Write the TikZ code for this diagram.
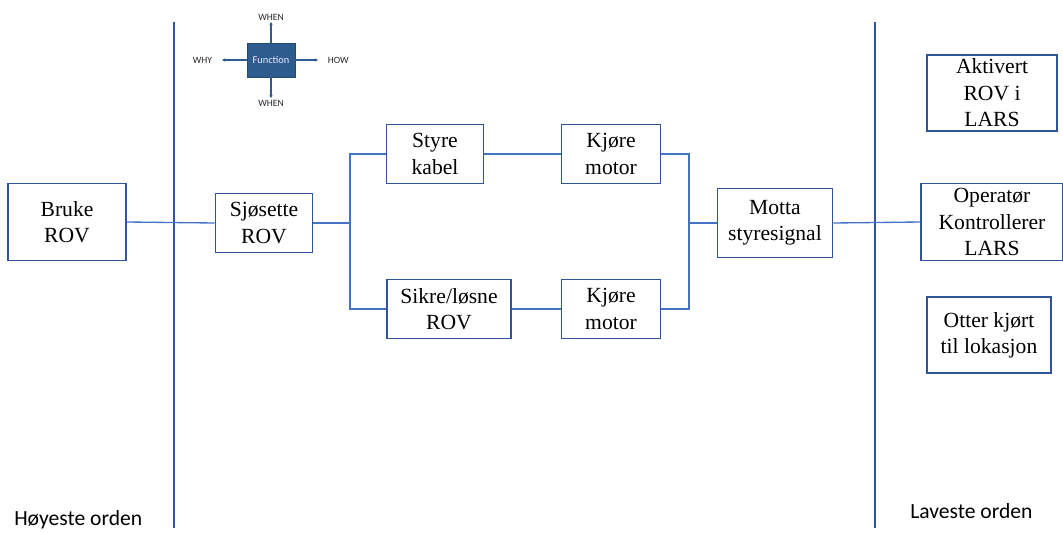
\documentclass[tikz,border=0pt]{standalone}
\usepackage{fontspec}
\setmainfont{Liberation Serif}
\newfontfamily\calibri{Carlito}
\usepackage{tikz}
\usetikzlibrary{arrows.meta}
\definecolor{boxblue}{HTML}{2F5597}
\definecolor{linkblue}{HTML}{4472C4}
\definecolor{fnblue}{HTML}{2E5C8E}
\tikzset{
  funcbox/.style={draw=boxblue,line width=1.3pt,fill=white,inner sep=0pt,align=center,
    font=\fontsize{16.2}{19.8}\selectfont},
  link/.style={draw=linkblue,line width=1pt},
  border/.style={draw=boxblue,line width=1.1pt},
  hint/.style={draw=fnblue,line width=0.8pt,-{Stealth[length=2.5pt,width=2.5pt]}},
  hintlabel/.style={font=\calibri\fontsize{7.2}{8}\selectfont,text=black!85,inner sep=1pt},
  orden/.style={anchor=west,font=\calibri\fontsize{16.2}{18}\selectfont,inner sep=0pt}
}
\begin{document}
\begin{tikzpicture}[x=0.75pt,y=-0.75pt]
\useasboundingbox (0,0) rectangle (1063,532);

%orden
\draw[border] (174,22) -- (174,528);
\draw[border] (875,22) -- (875,528);
\node[orden] (hoy) at (14,520) {Høyeste orden};
\node[orden] (lav) at (910,511) {Laveste orden};

%function
\node[fill=fnblue,draw=fnblue!80!black,minimum width={48*0.75pt},minimum height={34*0.75pt},inner sep=0pt,
  text=blue!8,font=\calibri\fontsize{7.8}{9}\selectfont] (fn) at (271,60) {Function};
\draw[hint] (fn.north) -- (271,22) node[hintlabel,above] (when1) {WHEN};
\draw[hint] (fn.south) -- (271,98) node[hintlabel,below] (when2) {WHEN};
\draw[hint] (fn.west) -- (222,60) node[hintlabel,left,xshift=-6pt] (why) {WHY};
\draw[hint] (fn.east) -- (318,60) node[hintlabel,right,xshift=6pt] (how) {HOW};

%boxes
\node[funcbox,minimum width={118*0.75pt},minimum height={77*0.75pt}] (bruke) at (67,222) {Bruke\\ROV};
\node[funcbox,minimum width={97*0.75pt},minimum height={59*0.75pt}] (sjo) at (264,223) {Sjøsette\\ROV};
\node[funcbox,minimum width={97*0.75pt},minimum height={59*0.75pt}] (styre) at (435,154) {Styre\\kabel};
\node[funcbox,minimum width={124*0.75pt},minimum height={59*0.75pt}] (sikre) at (449,309) {Sikre/løsne\\ROV};
\node[funcbox,minimum width={99*0.75pt},minimum height={59*0.75pt}] (kjore1) at (611,154) {Kjøre\\motor};
\node[funcbox,minimum width={99*0.75pt},minimum height={59*0.75pt}] (kjore2) at (611,309) {Kjøre\\motor};
\node[funcbox,minimum width={115*0.75pt},minimum height={69*0.75pt}] (motta) at (775,223) {Motta\\styresignal};
\node[funcbox,minimum width={130*0.75pt},minimum height={76*0.75pt}] (aktiv) at (992,93) {Aktivert\\ROV i\\LARS};
\node[funcbox,minimum width={142*0.75pt},minimum height={77*0.75pt}] (oper) at (992,222) {Operatør\\Kontrollerer\\LARS};
\node[funcbox,minimum width={124*0.75pt},minimum height={76*0.75pt}] (otter) at (989,335) {Otter kjørt\\til lokasjon};

%links
\coordinate (split) at (350,223);
\coordinate (join) at (689,223);
\draw[link] (bruke.east) -- (sjo.west);
\draw[link] (sjo.east) -- (split);
\draw[link] (styre.west) -| (split) |- (sikre.west);
\draw[link] (styre.east) -- (kjore1.west);
\draw[link] (sikre.east) -- (kjore2.west);
\draw[link] (kjore1.east) -| (join) |- (kjore2.east);
\draw[link] (join) -- (motta.west);
\draw[link] (motta.east) -- (oper.west);

\end{tikzpicture}
\end{document}
